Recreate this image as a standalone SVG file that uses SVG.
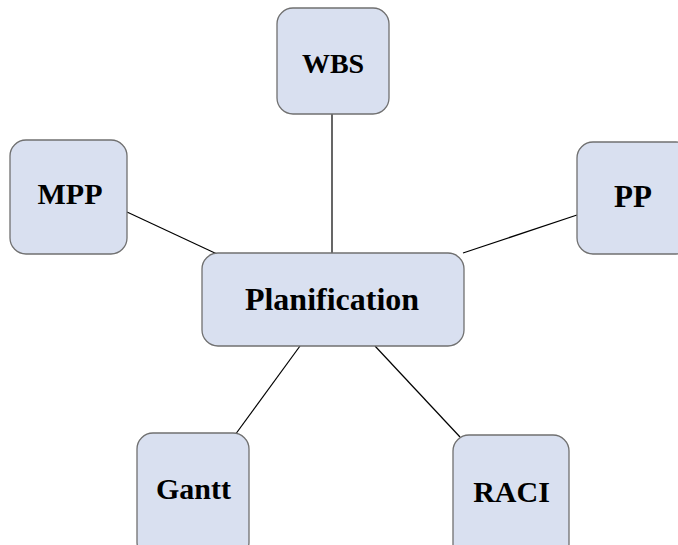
<svg xmlns="http://www.w3.org/2000/svg" width="678" height="545" viewBox="0 0 678 545">
<style>
.box{fill:#d9e0f0;stroke:#707070;stroke-width:1.3}
.lbl{font-family:"Liberation Serif","Times New Roman",serif;font-weight:bold;font-size:30px;fill:#000;text-anchor:middle}
.ln{stroke:#000;stroke-width:1.2;fill:none}
</style>
<rect width="678" height="545" fill="#fff"/>
<g id="connectors">
<line class="ln" x1="332" y1="113" x2="332" y2="253"/>
<line class="ln" x1="127" y1="212" x2="217" y2="254"/>
<line class="ln" x1="577" y1="215" x2="463" y2="253"/>
<line class="ln" x1="300" y1="346" x2="235" y2="435"/>
<line class="ln" x1="375" y1="346" x2="460" y2="437"/>
</g>
<g id="wbs"><rect class="box" x="277" y="8" width="112" height="106" rx="16"/><text class="lbl" style="font-size:28px" x="333" y="73">WBS</text></g>
<g id="mpp"><rect class="box" x="10" y="140" width="117" height="114" rx="16"/><text class="lbl" x="70" y="204">MPP</text></g>
<g id="pp"><rect class="box" x="577" y="142" width="115" height="112" rx="16"/><text class="lbl" style="font-size:31px" x="633" y="207">PP</text></g>
<g id="planification"><rect class="box" x="202" y="253" width="262" height="93" rx="16"/><text class="lbl" style="font-size:32px" x="332" y="310">Planification</text></g>
<g id="gantt"><rect class="box" x="137" y="433" width="112" height="125" rx="16"/><text class="lbl" x="193.5" y="499">Gantt</text></g>
<g id="raci"><rect class="box" x="453" y="435" width="116" height="125" rx="16"/><text class="lbl" x="511.5" y="502">RACI</text></g>
</svg>
